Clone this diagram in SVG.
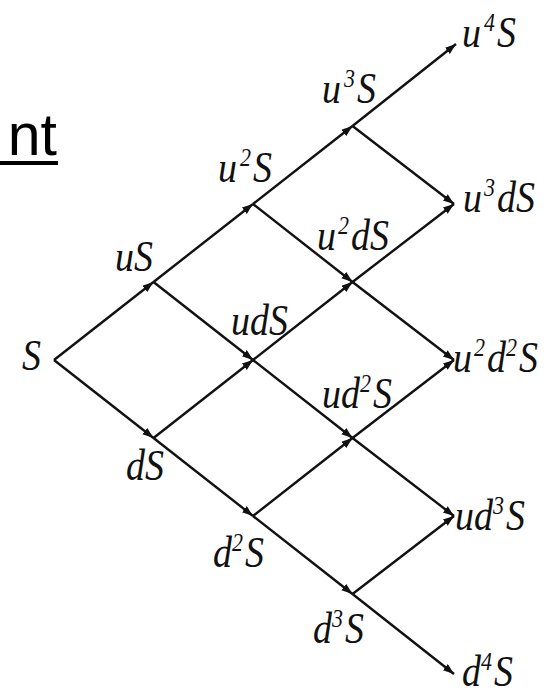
<svg xmlns="http://www.w3.org/2000/svg" width="559" height="696" viewBox="0 0 559 696">
<style>
.e{stroke:#111;stroke-width:2.4;fill:none;marker-end:url(#ah)}
.l{font-family:"Liberation Serif",serif;font-style:italic;font-size:38px;fill:#111}
.sp{font-size:22px}
.t{font-family:"Liberation Sans",sans-serif;font-size:59px;fill:#000}
</style>
<defs>
<marker id="ah" markerUnits="userSpaceOnUse" markerWidth="12" markerHeight="10" refX="11" refY="4" orient="auto">
<path d="M0,0 L11,4 L0,8 z" fill="#111"/>
</marker>
</defs>
<rect width="559" height="696" fill="#fff"/>
<g id="title">
<text class="t" x="57" y="155" text-anchor="end">nt</text>
<rect x="0" y="161" width="58" height="4" fill="#000"/>
</g>
<g id="connectors">
<line class="e" x1="54" y1="360" x2="153.5" y2="282"/>
<line class="e" x1="54" y1="360" x2="153.5" y2="438"/>
<line class="e" x1="153.5" y1="282" x2="253" y2="204"/>
<line class="e" x1="153.5" y1="282" x2="253" y2="360"/>
<line class="e" x1="153.5" y1="438" x2="253" y2="360"/>
<line class="e" x1="153.5" y1="438" x2="253" y2="516"/>
<line class="e" x1="253" y1="204" x2="352.5" y2="126"/>
<line class="e" x1="253" y1="204" x2="352.5" y2="282"/>
<line class="e" x1="253" y1="360" x2="352.5" y2="282"/>
<line class="e" x1="253" y1="360" x2="352.5" y2="438"/>
<line class="e" x1="253" y1="516" x2="352.5" y2="438"/>
<line class="e" x1="253" y1="516" x2="352.5" y2="594"/>
<line class="e" x1="352.5" y1="126" x2="456" y2="44"/>
<line class="e" x1="352.5" y1="126" x2="454" y2="204"/>
<line class="e" x1="352.5" y1="282" x2="454" y2="204"/>
<line class="e" x1="352.5" y1="282" x2="454" y2="360"/>
<line class="e" x1="352.5" y1="438" x2="454" y2="360"/>
<line class="e" x1="352.5" y1="438" x2="454" y2="516"/>
<line class="e" x1="352.5" y1="594" x2="454" y2="516"/>
<line class="e" x1="352.5" y1="594" x2="454" y2="674"/>
</g>
<g id="n-S"><text class="l" transform="translate(22 370) scale(1 1.15)">S</text></g>
<g id="n-uS"><text class="l" transform="translate(115 271) scale(1 1.15)">uS</text></g>
<g id="n-dS"><text class="l" transform="translate(126 480) scale(1 1.15)">dS</text></g>
<g id="n-u2S"><text class="l" transform="translate(218 182) scale(1 1.15)">u<tspan class="sp" dx="3" dy="-14">2</tspan><tspan dx="2" dy="14">S</tspan></text></g>
<g id="n-udS"><text class="l" transform="translate(231 335) scale(1 1.15)">udS</text></g>
<g id="n-d2S"><text class="l" transform="translate(213 567) scale(1 1.15)">d<tspan class="sp" dy="-14">2</tspan><tspan dx="2" dy="14">S</tspan></text></g>
<g id="n-u3S"><text class="l" transform="translate(322 103) scale(1 1.15)">u<tspan class="sp" dx="3" dy="-14">3</tspan><tspan dx="2" dy="14">S</tspan></text></g>
<g id="n-u2dS"><text class="l" transform="translate(317 250) scale(1 1.15)">u<tspan class="sp" dx="2" dy="-14">2</tspan><tspan dx="2" dy="14">dS</tspan></text></g>
<g id="n-ud2S"><text class="l" transform="translate(322 408) scale(1 1.15)">ud<tspan class="sp" dy="-14">2</tspan><tspan dx="2" dy="14">S</tspan></text></g>
<g id="n-d3S"><text class="l" transform="translate(313 643) scale(1 1.15)">d<tspan class="sp" dy="-14">3</tspan><tspan dx="2" dy="14">S</tspan></text></g>
<g id="n-u4S"><text class="l" transform="translate(462 47) scale(1 1.15)">u<tspan class="sp" dx="3" dy="-14">4</tspan><tspan dx="2" dy="14">S</tspan></text></g>
<g id="n-u3dS"><text class="l" transform="translate(463 212) scale(1 1.15)">u<tspan class="sp" dx="2" dy="-14">3</tspan><tspan dx="2" dy="14">dS</tspan></text></g>
<g id="n-u2d2S"><text class="l" transform="translate(453 372) scale(1 1.15)">u<tspan class="sp" dx="2" dy="-14">2</tspan><tspan dx="2" dy="14">d</tspan><tspan class="sp" dy="-14">2</tspan><tspan dx="2" dy="14">S</tspan></text></g>
<g id="n-ud3S"><text class="l" transform="translate(455 530) scale(1 1.15)">ud<tspan class="sp" dy="-14">3</tspan><tspan dx="2" dy="14">S</tspan></text></g>
<g id="n-d4S"><text class="l" transform="translate(462 686) scale(1 1.15)">d<tspan class="sp" dy="-14">4</tspan><tspan dx="2" dy="14">S</tspan></text></g>
</svg>
